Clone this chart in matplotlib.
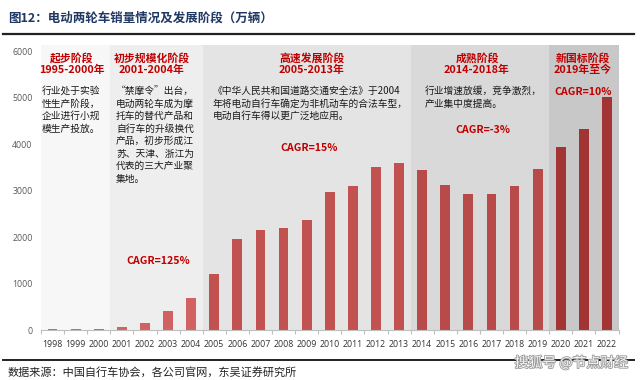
import matplotlib
matplotlib.use("Agg")
import matplotlib.pyplot as plt
import matplotlib.patheffects as pe
from matplotlib.lines import Line2D

plt.rcParams['font.family'] = ['Noto Sans CJK SC', 'DejaVu Sans']

years = [str(y) for y in range(1998, 2023)]
sales = [20, 23, 30, 58, 158, 400, 680, 1211, 1950, 2150, 2190, 2370, 2960, 3100,
         3500, 3600, 3450, 3130, 2930, 2930, 3100, 3470, 3930, 4330, 5010]
yticks = [0, 1000, 2000, 3000, 4000, 5000, 6000]

stage_bounds = [-0.5, 2.5, 6.5, 15.5, 21.5, 24.5]
stage_bg = ['#f7f7f7', '#eeeeee', '#e4e4e4', '#d9d9d9', '#c8c8c8']
stage_bar = ['#d06262', '#d06262', '#c25250', '#b84a49', '#a23433']

stage_titles = ['起步阶段\n1995-2000年', '初步规模化阶段\n2001-2004年', '高速发展阶段\n2005-2013年',
                '成熟阶段\n2014-2018年', '新国标阶段\n2019年至今']
stage_desc = ['行业处于实验\n性生产阶段，\n企业进行小规\n模生产投放。',
              '“禁摩令”出台，\n电动两轮车成为摩\n托车的替代产品和\n自行车的升级换代\n产品，初步形成江\n苏、天津、浙江为\n代表的三大产业聚\n集地。',
              '《中华人民共和国道路交通安全法》于2004\n年将电动自行车确定为非机动车的合法车型，\n电动自行车得以更广泛地应用。',
              '行业增速放缓，竞争激烈，\n产业集中度提高。']
cagr = ['CAGR=125%', 'CAGR=15%', 'CAGR=-3%', 'CAGR=10%']

W, H = 640, 380
fig = plt.figure(figsize=(6.4, 3.8), dpi=100)
fig.patch.set_facecolor('white')

def fx(px):
    return px / W

def fy(py):
    return 1 - py / H

ax = fig.add_axes([fx(41), fy(330), fx(618.5) - fx(41), fy(45) - fy(330)])
ax.set_xlim(-0.5, 24.5)
ax.set_ylim(0, 6135)
ax.set_facecolor('white')

x = list(range(len(years)))
colors = []
for i in x:
    for s in range(5):
        if stage_bounds[s] < i < stage_bounds[s + 1]:
            colors.append(stage_bar[s])
for s in range(5):
    ax.axvspan(stage_bounds[s], stage_bounds[s + 1], color=stage_bg[s], lw=0, zorder=0)
ax.bar(x, sales, width=0.42, color=colors, zorder=2)

for sp in ['top', 'right', 'left']:
    ax.spines[sp].set_visible(False)
ax.spines['bottom'].set_color('#bfbfbf')
ax.spines['bottom'].set_linewidth(0.8)
ax.set_yticks(yticks)
ax.set_yticklabels([str(v) for v in yticks])
ax.set_xticks(x)
ax.set_xticklabels(years)
ax.tick_params(axis='y', length=0, pad=6, labelsize=6.3, labelcolor='#595959')
ax.tick_params(axis='x', length=0, pad=7, labelsize=6.3, labelcolor='#333333')
ax.set_xticks([b + 0.5 for b in range(-1, 25)], minor=True)
ax.tick_params(axis='x', which='minor', length=3, color='#bfbfbf', width=0.8)
for lab in ax.get_xticklabels() + ax.get_yticklabels():
    lab.set_family(['Open Sans', 'DejaVu Sans'])

red = '#c00000'
title_pos = [72, 152, 312, 477, 583]
for tx, t in zip(title_pos, stage_titles):
    fig.text(fx(tx), fy(64), t, ha='center', va='center', color=red, fontsize=7.8,
             fontweight='bold', linespacing=1.15)

desc_pos = [(42, 86), (116, 86), (213, 86), (425, 86)]
for (dx, dy), d in zip(desc_pos, stage_desc):
    fig.text(fx(dx), fy(dy), d, ha='left', va='top', color='#1a1a1a', fontsize=7,
             linespacing=1.32)

cagr_pos = [(158, 261), (309, 148), (483, 130), (583, 92)]
for (cx, cy), c in zip(cagr_pos, cagr):
    fig.text(fx(cx), fy(cy), c, ha='center', va='center', color=red, fontsize=7.6,
             fontweight='bold')

fig.text(fx(8), fy(18), '图12：电动两轮车销量情况及发展阶段（万辆）', ha='left', va='center',
         color='#1f3864', fontsize=9, fontweight='bold')
fig.add_artist(Line2D([fx(3), fx(634)], [fy(33.5), fy(33.5)], color='#222222', lw=1.6))
fig.add_artist(Line2D([fx(3), fx(634)], [fy(360), fy(360)], color='#222222', lw=1.4))
fig.text(fx(8), fy(372), '数据来源：中国自行车协会，各公司官网，东吴证券研究所', ha='left',
         va='center', color='#222222', fontsize=8)
fig.text(fx(628), fy(363), '搜狐号 @节点财经', ha='right', va='center', color='#f4f4f4',
         fontsize=10, fontstyle='italic',
         path_effects=[pe.withStroke(linewidth=1.2, foreground='#9a9a9a')])

fig.savefig('out.png', dpi=100)
